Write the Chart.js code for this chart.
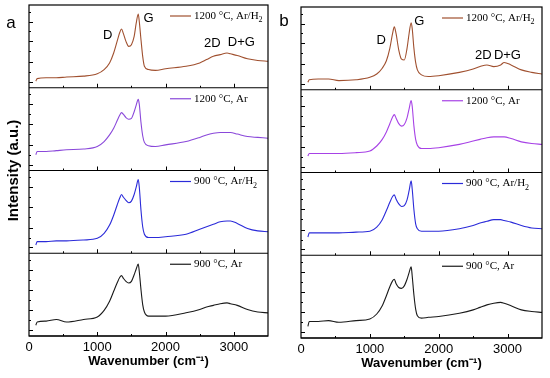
<!DOCTYPE html>
<html>
<head>
<meta charset="utf-8">
<script src="https://cdn.jsdelivr.net/npm/chart.js@4.4.0/dist/chart.umd.min.js"></script>
<style>
html, body { margin: 0; padding: 0; background: #fff; }
#wrap { position: relative; width: 550px; height: 378px; }
canvas { position: absolute; top: 0; }
#chartA { left: 0; }
#chartB { left: 275px; }
</style>
</head>
<body>
<div id="wrap">
    <canvas id="chartA" width="275" height="378"></canvas>
    <canvas id="chartB" width="275" height="378"></canvas>
</div>
<script>
// Raman shift (cm-1), shared by every spectrum
var wavenumbers = [100, 120, 250, 400, 550, 800, 1000, 1100, 1180, 1240, 1290, 1330, 1355, 1380, 1420, 1460, 1500, 1540, 1570, 1600, 1615, 1640, 1665, 1690, 1750, 1850, 2000, 2300, 2500, 2600, 2700, 2800, 2900, 2950, 3050, 3200, 3350, 3500];

// legend names, top panel first
var seriesNames = ['1200 °C, Ar/H', '1200 °C, Ar', '900 °C, Ar/H', '900 °C, Ar'];
var seriesSubs = ['2', '', '2', ''];

// intensity, in % of each sub-panel height
// panel a
var a_1200_ArH2 = [8, 11, 12, 12, 13, 14, 17, 22, 30, 42, 56, 67, 71, 66, 56, 50, 52, 62, 78, 89, 80, 58, 38, 26, 22, 21, 23, 26, 30, 34, 38, 40, 42, 41, 39, 35, 33, 32];
var a_1200_Ar = [19, 23, 23, 24, 25, 26, 29, 35, 43, 51, 60, 67, 70, 68, 64, 62, 63, 71, 79, 86, 80, 58, 42, 34, 30, 29, 31, 35, 40, 43, 45, 46, 46, 46, 44, 41, 40, 39];
var a_900_ArH2 = [10, 14, 14, 15, 15, 16, 18, 24, 34, 46, 58, 67, 71, 68, 64, 61, 63, 71, 80, 89, 80, 52, 32, 23, 19, 19, 20, 23, 29, 32, 35, 38, 39, 39, 36, 30, 27, 26];
var a_900_Ar = [13, 17, 18, 20, 17, 20, 23, 31, 42, 54, 64, 71, 73, 70, 66, 64, 66, 74, 81, 87, 78, 56, 38, 29, 24, 24, 24, 28, 32, 35, 37, 39, 40, 39, 37, 32, 29, 28];
// panel b
var b_1200_ArH2 = [9, 12, 13, 13, 11, 12, 15, 19, 26, 35, 50, 68, 76, 68, 48, 37, 36, 50, 68, 81, 74, 50, 33, 24, 18, 16, 17, 21, 25, 28, 30, 28, 30, 33, 30, 24, 21, 19];
var b_1200_Ar = [20, 23, 23, 23, 23, 24, 26, 32, 40, 49, 59, 67, 70, 66, 59, 56, 58, 66, 77, 87, 80, 56, 40, 33, 29, 29, 30, 34, 38, 40, 42, 43, 43, 43, 41, 37, 35, 34];
var b_900_ArH2 = [22, 27, 27, 27, 27, 28, 29, 34, 43, 54, 64, 71, 73, 68, 62, 59, 60, 67, 78, 90, 80, 55, 38, 32, 29, 29, 29, 32, 36, 39, 41, 43, 43, 42, 40, 36, 33, 32];
var b_900_Ar = [14, 20, 20, 21, 19, 21, 23, 29, 39, 51, 62, 69, 71, 66, 61, 60, 63, 71, 79, 86, 75, 52, 35, 27, 24, 25, 26, 30, 34, 37, 40, 42, 43, 42, 39, 34, 32, 31];

// tick values
var xTickLabels = [0, 1000, 2000, 3000];
var xMajorTicks = [1000, 2000, 3000];
var xMinorTicks = [500, 1500, 2500];
var yMajorTicks = [7, 31, 56, 80];
var yMinorTicks = [19, 44, 68, 92];

// peak names (wavenumber, % height in the top sub-panel)
var peakNames = ['D', 'G', '2D', 'D+G'];
var peaksA = [[1153, 63], [1752, 84], [2686, 53], [3110, 55]];
var peaksB = [[1164, 60], [1718, 83], [2649, 42], [2998, 42]];

var colorsA = ['#a0502f', '#8a48da', '#2b2bd9', '#1a1a1a'];
var colorsB = ['#a0502f', '#a742e6', '#2b2bd9', '#1a1a1a'];

function drawLegend(ctx, x, y, color, text, sub) {
    ctx.save();
    ctx.strokeStyle = color;
    ctx.lineWidth = 1.2;
    ctx.beginPath();
    ctx.moveTo(x, y);
    ctx.lineTo(x + 21, y);
    ctx.stroke();
    ctx.font = '11px "Liberation Serif"';
    ctx.fillStyle = '#000';
    ctx.textAlign = 'left';
    ctx.textBaseline = 'middle';
    ctx.fillText(text, x + 24, y);
    if (sub) {
        var w = ctx.measureText(text).width;
        ctx.font = '8px "Liberation Serif"';
        ctx.fillText(sub, x + 24 + w, y + 4);
    }
    ctx.restore();
}

var framePlugin = {
    id: 'frame',
    afterDraw: function (chart, args, opts) {
        var ctx = chart.ctx;
        var area = chart.chartArea;
        var xs = chart.scales.x;
        ctx.save();
        ctx.strokeStyle = '#000';
        ctx.lineWidth = 1.2;
        ctx.strokeRect(area.left, area.top, area.right - area.left, area.bottom - area.top);

        for (var i = 0; i < 4; i++) {
            var ys = chart.scales['y' + i];
            // divider
            ctx.lineWidth = 1.2;
            ctx.beginPath();
            ctx.moveTo(area.left, ys.bottom);
            ctx.lineTo(area.right, ys.bottom);
            ctx.stroke();
            // inner ticks
            ctx.lineWidth = 1;
            ctx.beginPath();
            yMajorTicks.forEach(function (v) {
                var p = Math.round(ys.getPixelForValue(v)) + 0.5;
                ctx.moveTo(area.left, p); ctx.lineTo(area.left + 4, p);
            });
            yMinorTicks.forEach(function (v) {
                var p = Math.round(ys.getPixelForValue(v)) + 0.5;
                ctx.moveTo(area.left, p); ctx.lineTo(area.left + 2, p);
            });
            xMajorTicks.forEach(function (v) {
                var p = Math.round(xs.getPixelForValue(v)) + 0.5;
                ctx.moveTo(p, ys.bottom); ctx.lineTo(p, ys.bottom - 4);
            });
            xMinorTicks.forEach(function (v) {
                var p = Math.round(xs.getPixelForValue(v)) + 0.5;
                ctx.moveTo(p, ys.bottom); ctx.lineTo(p, ys.bottom - 2);
            });
            ctx.stroke();

            drawLegend(ctx, opts.legendX, ys.top + 11, opts.colors[i], seriesNames[i], seriesSubs[i]);
        }

        // peak names on the top spectrum
        var top = chart.scales.y0;
        ctx.fillStyle = '#000';
        ctx.font = '13px "Liberation Sans"';
        ctx.textAlign = 'center';
        ctx.textBaseline = 'middle';
        opts.peaks.forEach(function (p, k) {
            ctx.fillText(peakNames[k], xs.getPixelForValue(p[0]), top.getPixelForValue(p[1]));
        });

        // panel letter
        ctx.font = '17px "Liberation Sans"';
        ctx.fillText(opts.letter, opts.letterX, opts.letterY);

        if (opts.yTitle) {
            ctx.translate(14, (area.top + area.bottom) / 2);
            ctx.rotate(-Math.PI / 2);
            ctx.font = 'bold 15px "Liberation Sans"';
            ctx.fillText(opts.yTitle, 0, 0);
        }
        ctx.restore();
    }
};

function makeChart(id, series, colors, pad, axisHeight, titlePad, frameOpts) {
    var datasets = series.map(function (values, i) {
        return {
            label: seriesNames[i] + seriesSubs[i],
            data: values.map(function (v, k) { return { x: wavenumbers[k], y: v }; }),
            borderColor: colors[i],
            borderWidth: 1.1,
            pointRadius: 0,
            cubicInterpolationMode: 'monotone',
            yAxisID: 'y' + i
        };
    });

    var scales = {
        x: {
            type: 'linear',
            min: 0,
            max: 3500,
            grid: { display: false, drawTicks: false },
            border: { display: false },
            afterBuildTicks: function (s) {
                s.ticks = xTickLabels.map(function (v) { return { value: v }; });
            },
            ticks: {
                color: '#000',
                padding: 4,
                maxRotation: 0,
                autoSkip: false,
                font: { family: 'Liberation Sans', size: 13 },
                callback: function (v) { return String(v); }
            },
            title: {
                display: true,
                text: 'Wavenumber (cm⁻¹)',
                color: '#000',
                padding: { top: 0, bottom: titlePad },
                font: { family: 'Liberation Sans', size: 13, weight: 'bold' }
            },
            afterFit: function (s) { s.height = axisHeight; }
        }
    };
    for (var i = 0; i < 4; i++) {
        scales['y' + i] = {
            type: 'linear',
            position: 'left',
            stack: 'spectra',
            stackWeight: 1,
            weight: 4 - i,
            min: 0,
            max: 100,
            grid: { display: false },
            border: { display: false },
            ticks: { display: false },
            afterFit: function (s) { s.width = 0; }
        };
    }

    frameOpts.colors = colors;
    return new Chart(document.getElementById(id), {
        type: 'line',
        data: { datasets: datasets },
        options: {
            responsive: false,
            animation: false,
            layout: { padding: pad },
            plugins: {
                legend: { display: false },
                tooltip: { enabled: false },
                frame: frameOpts
            },
            scales: scales
        },
        plugins: [framePlugin]
    });
}

makeChart('chartA', [a_1200_ArH2, a_1200_Ar, a_900_ArH2, a_900_Ar], colorsA,
    { left: 29, right: 7, top: 5, bottom: 0 }, 42, 9,
    { legendX: 170, peaks: peaksA, letter: 'a', letterX: 11, letterY: 23, yTitle: 'Intensity (a.u.)' });

makeChart('chartB', [b_1200_ArH2, b_1200_Ar, b_900_ArH2, b_900_Ar], colorsB,
    { left: 26, right: 8, top: 7, bottom: 0 }, 40, 7,
    { legendX: 167, peaks: peaksB, letter: 'b', letterX: 9, letterY: 21, yTitle: null });
</script>
</body>
</html>
